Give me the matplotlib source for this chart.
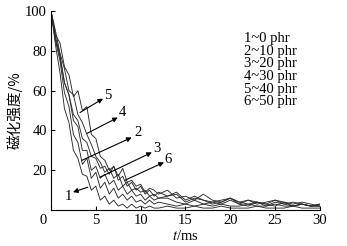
import matplotlib
matplotlib.use("Agg")
import matplotlib.pyplot as plt

# time axis (ms): dense early, coarser in the tail
t = [0, 0.5, 1, 1.5, 2, 2.5, 3, 3.5, 4, 4.5, 5, 5.5, 6, 6.5, 7, 7.5, 8, 8.5,
     9, 9.5, 10, 10.5, 11, 11.5, 12,
     13, 14, 15, 16, 17, 18, 19, 20, 21, 22, 23, 24, 25, 26, 27, 28, 29, 30]

c1 = [100, 83, 69, 51, 44, 30, 26, 18, 17, 10, 12, 5, 7, 3, 5, 2, 3, 1,
      3, 1, 2, 1, 2, 1, 1,
      2, 1, 1, 2, 1, 1, 2, 1, 1, 1, 2, 1, 1, 1, 2, 1, 1, 1]
c2 = [100, 85, 75, 59, 52, 38, 34, 23, 26, 16, 19, 11, 14, 8, 11, 6, 8, 5,
      7, 4, 5, 3, 5, 3, 4,
      3, 2, 3, 2, 3, 2, 3, 2, 2, 3, 2, 2, 3, 2, 2, 3, 2, 2]
c3 = [100, 87, 78, 64, 58, 45, 42, 30, 30, 20, 22, 16, 18, 13, 15, 10, 12, 8,
      10, 7, 8, 5, 7, 5, 6,
      6, 4, 3, 5, 3, 4, 3, 5, 3, 2, 4, 3, 2, 4, 2, 3, 2, 2]
c4 = [100, 90, 79, 71, 60, 58, 48, 44, 38, 33, 27, 24, 19, 21, 16, 18, 12, 14,
      10, 11, 9, 10, 7, 8, 6,
      7, 8, 4, 6, 5, 3, 4, 6, 4, 3, 4, 2, 4, 3, 2, 3, 2, 3]
c5 = [100, 88, 84, 72, 68, 57, 60, 50, 52, 38, 36, 27, 25, 20, 22, 15, 17, 12,
      14, 10, 12, 8, 10, 7, 9,
      7, 9, 5, 7, 5, 4, 5, 6, 4, 5, 3, 4, 5, 3, 4, 3, 2, 3]
c6 = [100, 86, 77, 64, 58, 48, 45, 36, 34, 27, 26, 21, 22, 18, 22, 17, 21, 14,
      15, 12, 13, 9, 11, 10, 8,
      10, 6, 7, 5, 8, 5, 4, 6, 3, 5, 4, 3, 5, 4, 3, 4, 3, 2]
curves = [c1, c2, c3, c4, c5, c6]

legend_labels = ['1~0 phr', '2~10 phr', '3~20 phr', '4~30 phr', '5~40 phr', '6~50 phr']

# curve callouts: label, arrow tail, arrow head, label position
callouts = [
    ('5', (3.23, 49), (5.8, 56), (6.3, 57.5)),
    ('4', (4.0, 38.5), (7.45, 46.5), (7.95, 49)),
    ('2', (3.45, 25), (9.0, 36.5), (9.65, 39)),
    ('3', (5.45, 16.5), (11.25, 29), (11.8, 31)),
    ('6', (8.25, 15), (12.6, 24), (13.1, 25.5)),
    ('1', (4.1, 11.5), (2.45, 9), (1.9, 7)),
]

serif = 'Liberation Serif'
fs = 10.5

fig = plt.figure(figsize=(3.47, 2.46), dpi=100)
ax = fig.add_axes([0.147, 0.146, 0.775, 0.809])

for c in curves:
    ax.plot(t, c, color='#2a2a2a', lw=0.65)

for lab, tail, head, pos in callouts:
    ax.annotate('', xy=head, xytext=tail,
                arrowprops=dict(arrowstyle='-|>', color='black', lw=0.8,
                                mutation_scale=7, shrinkA=0, shrinkB=0))
    ax.text(pos[0], pos[1], lab, family=serif, fontsize=fs,
            ha='center', va='center')

for i, lab in enumerate(legend_labels):
    ax.text(0.718, 0.862 - i * 0.0635, lab, transform=ax.transAxes,
            family=serif, fontsize=fs, ha='left', va='center')

ax.set_xlim(0, 30)
ax.set_ylim(0, 100)
ax.set_xticks([0, 5, 10, 15, 20, 25, 30])
ax.set_xticklabels(['', '5', '10', '15', '20', '25', '30'])
ax.set_yticks([20, 40, 60, 80, 100])
ax.tick_params(direction='in', length=3, width=0.8, pad=3, labelsize=fs)
for lbl in ax.get_xticklabels() + ax.get_yticklabels():
    lbl.set_family(serif)
ax.annotate('0', xy=(0, 0), xytext=(-6, -2.5), textcoords='offset points',
            family=serif, fontsize=fs, ha='center', va='top')

for s in ['top', 'right']:
    ax.spines[s].set_visible(False)
for s in ['left', 'bottom']:
    ax.spines[s].set_linewidth(0.8)

ax.set_xlabel('$t$/ms', family=serif, fontsize=fs, labelpad=1)
ax.xaxis.label.set_math_fontfamily('stix')
ax.set_ylabel('磁化强度/%', family=['Noto Sans CJK SC', 'DejaVu Sans'],
              fontsize=10.5, labelpad=2)

fig.savefig('out.png', dpi=100)
